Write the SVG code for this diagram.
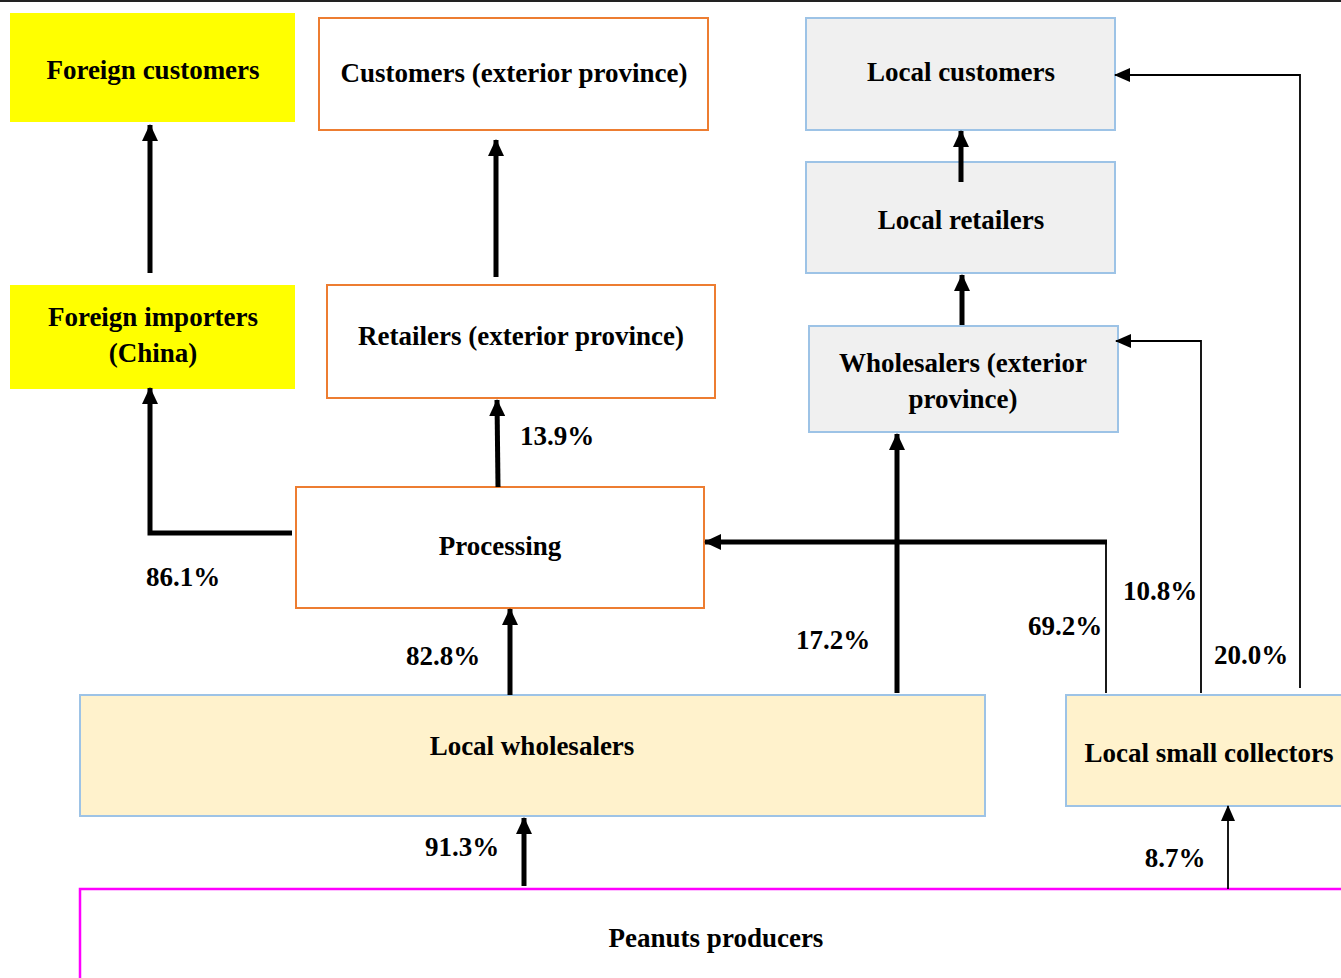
<svg xmlns="http://www.w3.org/2000/svg" width="1341" height="978" viewBox="0 0 1341 978">
<defs>
<style>
text{font-family:"Liberation Serif","Times New Roman",serif;font-weight:bold;font-size:27px;fill:#000;text-anchor:middle;dominant-baseline:central}
.yel{fill:#FFFF00;stroke:none}
.org{fill:#fff;stroke:#ED7D31;stroke-width:2}
.gry{fill:#F0F0F0;stroke:#9DC3E6;stroke-width:2}
.crm{fill:#FFF2CC;stroke:#9DC3E6;stroke-width:2}
.mag{fill:#fff;stroke:#FF00FF;stroke-width:2.5}
.thick{fill:none;stroke:#000;stroke-width:5;marker-end:url(#ah)}
.thin{fill:none;stroke:#000;stroke-width:1.8;marker-end:url(#at)}
</style>
<marker id="ah" markerUnits="userSpaceOnUse" markerWidth="18" markerHeight="16" refX="16" refY="8" orient="auto"><path d="M0,0 L17,8 L0,16 z" fill="#000"/></marker>
<marker id="at" markerUnits="userSpaceOnUse" markerWidth="16" markerHeight="14" refX="15" refY="7" orient="auto"><path d="M0,0 L16,7 L0,14 z" fill="#000"/></marker>
</defs>
<rect width="1341" height="978" fill="#fff"/>
<line x1="0" y1="1" x2="1341" y2="1" stroke="#222" stroke-width="2"/>

<g id="foreign-customers"><rect class="yel" x="10" y="13" width="285" height="109"/><text x="153" y="70">Foreign customers</text></g>
<g id="customers-ext"><rect class="org" x="319" y="18" width="389" height="112"/><text x="514" y="73">Customers (exterior province)</text></g>
<g id="local-customers"><rect class="gry" x="806" y="18" width="309" height="112"/><text x="961" y="72">Local customers</text></g>
<g id="local-retailers"><rect class="gry" x="806" y="162" width="309" height="111"/><text x="961" y="220">Local retailers</text></g>
<g id="wholesalers-ext"><rect class="gry" x="809" y="326" width="309" height="106"/><text x="963" y="363">Wholesalers (exterior</text><text x="963" y="399">province)</text></g>
<g id="foreign-importers"><rect class="yel" x="10" y="285" width="285" height="104"/><text x="153" y="317">Foreign importers</text><text x="153" y="353">(China)</text></g>
<g id="retailers-ext"><rect class="org" x="327" y="285" width="388" height="113"/><text x="521" y="336">Retailers (exterior province)</text></g>
<g id="processing"><rect class="org" x="296" y="487" width="408" height="121"/><text x="500" y="546">Processing</text></g>
<g id="local-wholesalers"><rect class="crm" x="80" y="695" width="905" height="121"/><text x="532" y="746">Local wholesalers</text></g>
<g id="local-small-collectors"><rect class="crm" x="1066" y="695" width="290" height="111"/><text x="1209" y="753">Local small collectors</text></g>
<g id="peanuts-producers"><rect class="mag" x="80" y="889" width="1280" height="100"/><text x="716" y="938">Peanuts producers</text></g>

<g id="connectors">
<path class="thick" d="M150,273 V125"/>
<path class="thick" d="M496,277 V140"/>
<path class="thick" d="M292,533 H150 V388"/>
<path class="thick" d="M498,487 L497,400"/>
<path class="thick" d="M510,695 V609"/>
<path class="thick" d="M897,693 V434"/>
<path class="thick" d="M962,325 V275"/>
<path class="thick" d="M961,182 V131"/>
<path class="thick" d="M524,886 V818"/>
<path d="M1106,693 V542" fill="none" stroke="#000" stroke-width="1.8"/>
<path class="thick" d="M1107,542 H705"/>
<path class="thin" d="M1201,693 V341 H1116"/>
<path class="thin" d="M1300,688 V75 H1115"/>
<path class="thin" d="M1228,889 V806"/>
</g>

<g id="labels">
<text x="183" y="577">86.1%</text>
<text x="557" y="436">13.9%</text>
<text x="443" y="656">82.8%</text>
<text x="833" y="640">17.2%</text>
<text x="1065" y="626">69.2%</text>
<text x="1160" y="591">10.8%</text>
<text x="1251" y="655">20.0%</text>
<text x="462" y="847">91.3%</text>
<text x="1175" y="858">8.7%</text>
</g>
</svg>
